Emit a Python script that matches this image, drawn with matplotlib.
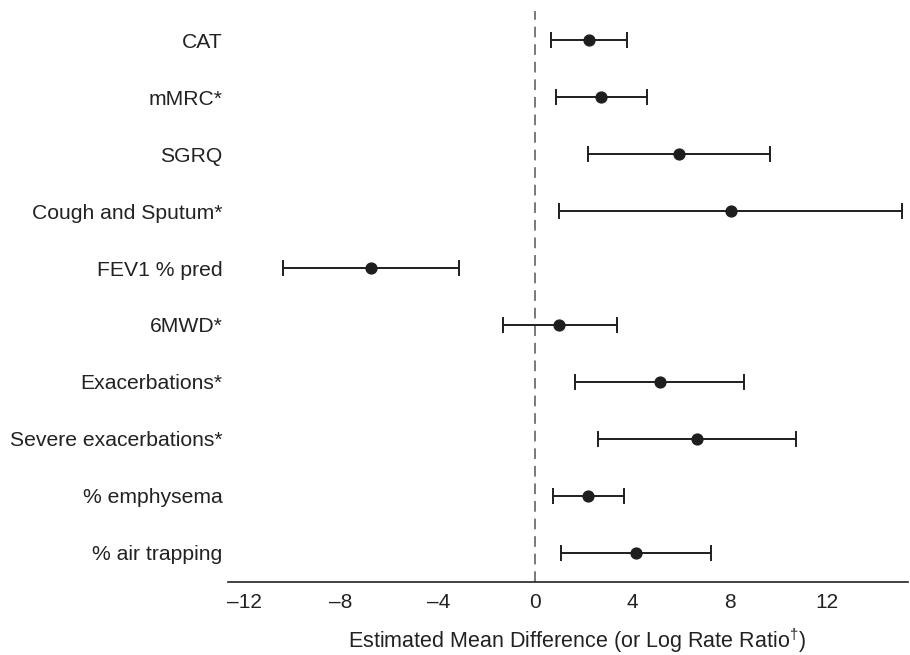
import matplotlib
matplotlib.use("Agg")
import matplotlib.pyplot as plt

plt.rcParams['font.family'] = ['Liberation Sans', 'DejaVu Sans']
plt.rcParams['mathtext.fontset'] = 'custom'
plt.rcParams['mathtext.rm'] = 'Liberation Sans'
plt.rcParams['mathtext.it'] = 'Liberation Sans'

categories = ["CAT", "mMRC*", "SGRQ", "Cough and Sputum*", "FEV1 % pred",
              "6MWD*", "Exacerbations*", "Severe exacerbations*",
              "% emphysema", "% air trapping"]
estimates = [2.22, 2.70, 5.92, 8.07, -6.75, 0.99, 5.14, 6.67, 2.18, 4.14]
lower = [0.64, 0.85, 2.18, 0.96, -10.41, -1.34, 1.64, 2.59, 0.71, 1.06]
upper = [3.79, 4.59, 9.65, 15.12, -3.16, 3.36, 8.58, 10.74, 3.67, 7.22]
xticks = [-12, -8, -4, 0, 4, 8, 12]
xticklabels = ["\u201312", "\u20138", "\u20134", "0", "4", "8", "12"]

fig = plt.figure(figsize=(9.1, 6.55), dpi=100)
ax = fig.add_axes([228/910, 1-582/655, 680/910, (582-11)/655])

ypos = list(range(len(categories)))
err_lo = [e - l for e, l in zip(estimates, lower)]
err_hi = [u - e for e, u in zip(estimates, upper)]
ink = "#1e1e1e"
ax.errorbar(estimates, ypos, xerr=[err_lo, err_hi], fmt='o', color=ink,
            ecolor=ink, elinewidth=1.4, capsize=6, capthick=1.4,
            markersize=7.8, zorder=3)

ax.axvline(0, color="#555555", linewidth=1.1, linestyle=(0, (7, 4.5)), zorder=1)

ax.set_xlim(-12.66, 15.35)
ax.set_ylim(9.51, -0.51)
ax.set_yticks(ypos)
ax.set_yticklabels(categories, fontsize=15.2, color="#222222")
ax.set_xticks(xticks)
ax.set_xticklabels(xticklabels, fontsize=15, color="#222222")
ax.tick_params(axis='y', length=0, pad=4)
ax.tick_params(axis='x', length=0, pad=8)

for s in ['top', 'right', 'left']:
    ax.spines[s].set_visible(False)
ax.spines['bottom'].set_linewidth(1.2)
ax.spines['bottom'].set_color("#222222")

fig.text(577/910, 1-648/655,
         "Estimated Mean Difference (or Log Rate Ratio$^{\\dagger}$)",
         fontsize=15.5, color="#222222", ha='center', va='baseline')

fig.savefig("out.png", dpi=100)
